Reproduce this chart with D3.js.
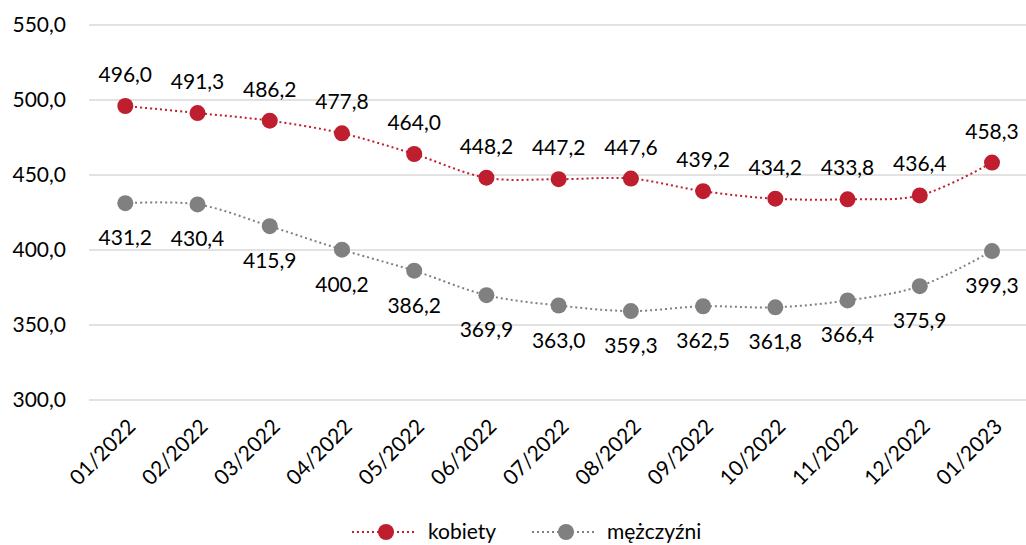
<!DOCTYPE html>
<html>
<head>
<meta charset="utf-8">
<script src="https://cdn.jsdelivr.net/npm/d3@7"></script>
<style>
  html, body { margin: 0; padding: 0; background: #fff; }
  svg text { font-family: Lato, "Open Sans", sans-serif; fill: #000; }
</style>
</head>
<body>
<svg id="chart" width="1026" height="545"></svg>
<script>
const categories = ["01/2022","02/2022","03/2022","04/2022","05/2022","06/2022","07/2022","08/2022","09/2022","10/2022","11/2022","12/2022","01/2023"];
const kobiety = [496.0, 491.3, 486.2, 477.8, 464.0, 448.2, 447.2, 447.6, 439.2, 434.2, 433.8, 436.4, 458.3];
const mezczyzni = [431.2, 430.4, 415.9, 400.2, 386.2, 369.9, 363.0, 359.3, 362.5, 361.8, 366.4, 375.9, 399.3];
const yTicks = [300, 350, 400, 450, 500, 550];
const seriesNames = ["kobiety", "mężczyźni"];

const FS = 21;
const fmt = v => d3.format(".1f")(v).replace(".", ",");
const svg = d3.select("#chart");
const W = 1026;

const x = d3.scalePoint().domain(categories).range([125.3, 992]);
const y = d3.scaleLinear().domain([300, 550]).range([400, 25]);

// gridlines
svg.append("g").selectAll("line").data(yTicks).join("line")
  .attr("x1", 89).attr("x2", W)
  .attr("y1", d => y(d)).attr("y2", d => y(d))
  .attr("stroke", "#d9d9d9").attr("stroke-width", 1.3);

// y axis labels
const yAxis = d3.axisLeft(y).tickValues(yTicks).tickFormat(fmt).tickSize(0).tickPadding(0);
const yg = svg.append("g").attr("transform", "translate(66,0)").call(yAxis);
yg.select(".domain").remove();
yg.selectAll("text").attr("font-size", FS).attr("font-family", "Lato, sans-serif").attr("fill", "#000");

// x axis labels
const xAxis = d3.axisBottom(x).tickSize(0).tickPadding(0);
const xg = svg.append("g").attr("transform", "translate(0,400)").call(xAxis);
xg.select(".domain").remove();
xg.selectAll("text")
  .attr("font-size", FS).attr("font-family", "Lato, sans-serif").attr("fill", "#000")
  .attr("text-anchor", "end")
  .attr("dy", 0).attr("y", 0)
  .attr("transform", "translate(11,28) rotate(-45)");

const series = [
  { name: seriesNames[0], values: kobiety, color: "#BE1E2D", labelDy: -24 },
  { name: seriesNames[1], values: mezczyzni, color: "#808080", labelDy: 42 }
];

const line = d3.line()
  .x((d, i) => x(categories[i]))
  .y(d => y(d))
  .curve(d3.curveCatmullRom.alpha(0.5));

series.forEach(s => {
  svg.append("path").datum(s.values)
    .attr("d", line)
    .attr("fill", "none")
    .attr("stroke", s.color)
    .attr("stroke-width", 2)
    .attr("stroke-dasharray", "2,3");
  svg.append("g").selectAll("circle").data(s.values).join("circle")
    .attr("cx", (d, i) => x(categories[i]))
    .attr("cy", d => y(d))
    .attr("r", 8)
    .attr("fill", s.color);
  svg.append("g").selectAll("text").data(s.values).join("text")
    .attr("x", (d, i) => x(categories[i]))
    .attr("y", d => y(d) + s.labelDy)
    .attr("text-anchor", "middle")
    .attr("font-size", FS)
    .text(d => fmt(d));
});

// legend
const legend = [
  { name: seriesNames[0], color: "#BE1E2D", x1: 352, x2: 417, cx: 386, tx: 428 },
  { name: seriesNames[1], color: "#808080", x1: 532, x2: 595, cx: 566, tx: 607 }
];
const lg = svg.append("g");
legend.forEach(l => {
  lg.append("line").attr("x1", l.x1).attr("x2", l.x2).attr("y1", 532).attr("y2", 532)
    .attr("stroke", l.color).attr("stroke-width", 2).attr("stroke-dasharray", "2,3");
  lg.append("circle").attr("cx", l.cx).attr("cy", 532).attr("r", 8).attr("fill", l.color);
  lg.append("text").attr("x", l.tx).attr("y", 539).attr("font-size", FS).text(l.name);
});
</script>
</body>
</html>
